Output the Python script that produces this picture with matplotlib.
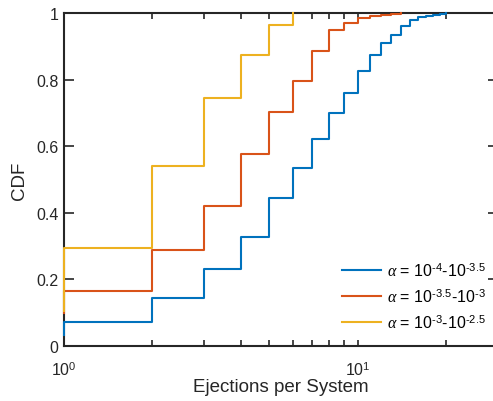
import matplotlib
matplotlib.use("Agg")
import matplotlib.pyplot as plt
from matplotlib.ticker import FixedLocator, NullFormatter

plt.rcParams['font.family'] = ['Liberation Sans', 'DejaVu Sans']
plt.rcParams['mathtext.fontset'] = 'custom'
plt.rcParams['mathtext.rm'] = 'Liberation Sans'
plt.rcParams['mathtext.it'] = 'Liberation Serif:italic'

# Ejection counts (x) and CDF values; first entry is F at 0 ejections (drawn at x=1)
x_blue = [1, 1, 2, 3, 4, 5, 6, 7, 8, 9, 10, 11, 12, 13, 14, 15, 16, 17, 18, 19, 20]
cdf_blue = [0.033, 0.073, 0.143, 0.231, 0.326, 0.444, 0.534, 0.622, 0.700, 0.759, 0.827,
            0.875, 0.909, 0.934, 0.961, 0.979, 0.987, 0.992, 0.995, 0.997, 1.0]
x_red = [1, 1, 2, 3, 4, 5, 6, 7, 8, 9, 10, 11, 12, 13, 14]
cdf_red = [0.100, 0.166, 0.289, 0.421, 0.577, 0.702, 0.797, 0.886, 0.949, 0.971, 0.985,
           0.991, 0.995, 0.998, 1.0]
x_yellow = [1, 1, 2, 3, 4, 5, 6]
cdf_yellow = [0.106, 0.294, 0.541, 0.744, 0.873, 0.964, 1.0]

labels = [r'$\alpha$ = 10$^{\text{-4}}$-10$^{\text{-3.5}}$',
          r'$\alpha$ = 10$^{\text{-3.5}}$-10$^{\text{-3}}$',
          r'$\alpha$ = 10$^{\text{-3}}$-10$^{\text{-2.5}}$']
colors = ['#0072BD', '#D95319', '#EDB120']

fig = plt.figure(figsize=(4.93, 4.02), dpi=100)
ax = fig.add_axes([64/493, 55/402, 434/493, 333/402])

for xs, ys, c, lab in zip([x_blue, x_red, x_yellow], [cdf_blue, cdf_red, cdf_yellow], colors, labels):
    ax.step(xs, ys, where='post', color=c, lw=1.5, label=lab, zorder=3, clip_on=False)

ax.set_xscale('log')
ax.set_xlim(1, 30)
ax.set_ylim(0, 1)
ax.set_yticks([0, 0.2, 0.4, 0.6, 0.8, 1])
ax.set_yticklabels(['0', '0.2', '0.4', '0.6', '0.8', '1'])
ax.xaxis.set_major_locator(FixedLocator([1, 10]))
ax.set_xticklabels([r'10$^{0}$', r'10$^{1}$'])
ax.xaxis.set_minor_locator(FixedLocator([2, 3, 4, 5, 6, 7, 8, 9, 20, 30]))
ax.xaxis.set_minor_formatter(NullFormatter())

sc = '#262626'
for s in ax.spines.values():
    s.set_linewidth(1.5)
    s.set_color(sc)
ax.tick_params(axis='both', which='both', direction='in', top=True, right=True,
               colors=sc, labelcolor='#262626', labelsize=11.5, width=1.2)
ax.tick_params(axis='y', which='major', length=7, pad=4)
ax.tick_params(axis='x', which='both', length=4, pad=10)

ax.set_xlabel('Ejections per System', fontsize=13.5, color='#262626', labelpad=0)
ax.set_ylabel('CDF', fontsize=13.5, color='#262626', labelpad=6)

leg = ax.legend(loc='lower right', frameon=False, fontsize=11.5, handlelength=2.45,
                handletextpad=0.35, labelspacing=0.5, bbox_to_anchor=(1.005, 0.002))

fig.savefig('out.png', dpi=100)
